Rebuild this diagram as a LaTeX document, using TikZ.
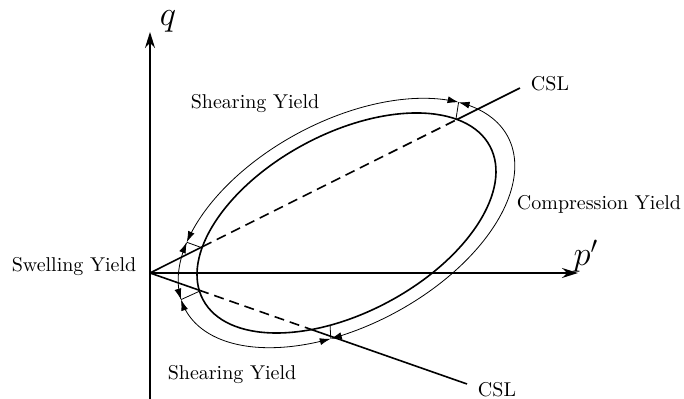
\documentclass[tikz,border=0pt]{standalone}
\usepackage{amsmath,amssymb}
\usepackage{tikz}
\usetikzlibrary{calc,arrows.meta,intersections}

\begin{document}
\begin{tikzpicture}[scale=0.8787,>={Latex[length=5.5pt,width=3.5pt]}]
	\useasboundingbox (-3,-2.52) rectangle (10.68,5.46);
	\def\ax{3.254}
	\def\bx{1.786}
	\def\Ax{3.66}
	\def\Bx{2.04}
	
	\coordinate (O) at (0,0);
	\coordinate (C) at (3.93,1.0);
	\coordinate (U) at (7.4,3.7);
	\coordinate (L) at (6.34,-2.22);
	
	\draw[thick,-{Stealth[length=8pt,width=5pt]}] (0,-2.52)--(0,4.82);
	\draw[thick,-{Stealth[length=8pt,width=5pt]}] (O)--(8.56,0);
	\node (q) at (0.36,5.03) {\LARGE $q$};
	\node (p) at (8.72,0.34) {\LARGE $p'$};
	
	\begin{scope}[shift={(C)},rotate=28.2]
		\draw[thick,name path global=yield] (0,0) ellipse ({\ax} and {\bx});
		\foreach \s/\e in {31.6/145,145/174,174/248,248/391.6}
			\draw[<->,domain=\s:\e,samples=80] plot ({\Ax*cos(\x)},{\Bx*sin(\x)});
		\foreach \ti/\tu in {26.5/31.6,148.7/145,174/174,247.3/248}
			\draw[thin] ({\ax*cos(\ti)},{\bx*sin(\ti)})--({\Ax*cos(\tu)},{\Bx*sin(\tu)});
	\end{scope}
	
	\path[name path=cslU] (O)--(U);
	\path[name path=cslL] (O)--(L);
	\path[name intersections={of=yield and cslU,sort by=cslU,by={U1,U2}}];
	\path[name intersections={of=yield and cslL,sort by=cslL,by={L1,L2}}];
	
	\draw[thick] (O)--(U1) (U2)--(U);
	\draw[thick] (O)--(L1) (L2)--(L);
	\draw[thick,dash pattern=on 5pt off 3pt] (U1)--(U2) (L1)--(L2);
	
	\node (cslu) at (8.0,3.78) {CSL};
	\node (csll) at (6.94,-2.34) {CSL};
	\node (shu) at (2.1,3.39) {Shearing Yield};
	\node (shl) at (1.64,-2.04) {Shearing Yield};
	\node (sw) at (-1.52,0.13) {Swelling Yield};
	\node (co) at (8.98,1.38) {Compression Yield};
\end{tikzpicture}
\end{document}
